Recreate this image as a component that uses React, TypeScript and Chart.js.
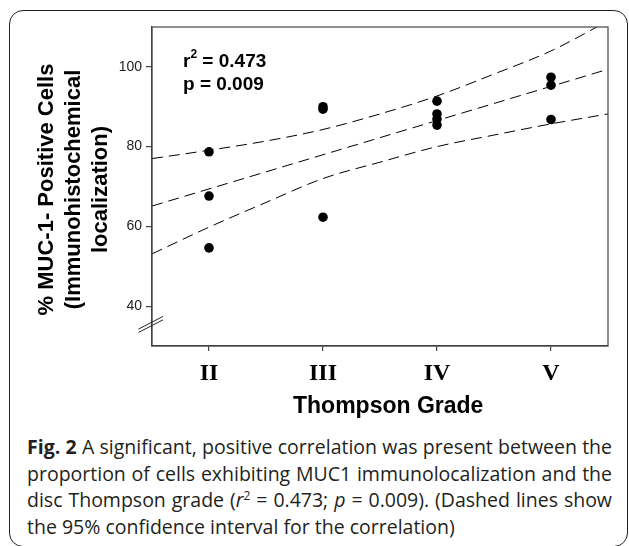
import React, { useEffect, useRef } from "react";
import { Chart, registerables } from "chart.js";

Chart.register(...registerables);

// ---- data ----
const gradeTicks = [2, 3, 4, 5];
const gradeLabels = ["II", "III", "IV", "V"];
const yTicks = [40, 60, 80, 100];

const pointGrade = [2, 2, 2, 3, 3, 3, 4, 4, 4, 4, 5, 5, 5];
const pointMuc1 = [78.7, 67.6, 54.6, 90.0, 89.4, 62.3, 91.4, 88.2, 86.9, 85.4, 97.4, 95.4, 86.8];

const fitX = [1.5, 5.5];
const fitY = [65.1, 99.4];

const ciX = [1.5, 2, 2.5, 3, 3.5, 4, 4.5, 5, 5.5];
const upperY = [77.0, 79.1, 81.4, 84.3, 88.2, 92.7, 98.2, 104.0, 111.5];
const lowerY = [53.1, 59.8, 66.0, 72.0, 76.1, 80.0, 82.9, 85.7, 88.2];

const yBreakValue = 35.4;

const SANS = '"Liberation Sans", Arial, Helvetica, sans-serif';
const SERIF = '"Liberation Serif", "Times New Roman", Times, serif';
const CANVAS_W = 629;
const CANVAS_H = 425;
const AXIS_COLOR = "#444";

const decor = {
  id: "decor",
  afterDraw(chart: any) {
    const { ctx, chartArea: a, scales } = chart;
    ctx.save();
    // frame
    ctx.strokeStyle = AXIS_COLOR;
    ctx.lineWidth = 1.2;
    ctx.strokeRect(a.left, a.top, a.right - a.left, a.bottom - a.top);

    // axis break marks
    const yb = scales.y.getPixelForValue(yBreakValue);
    ctx.strokeStyle = "#222";
    ctx.lineWidth = 1;
    for (const off of [-1.7, 1.7]) {
      ctx.beginPath();
      ctx.moveTo(a.left - 13.5, yb + 6.3 + off);
      ctx.lineTo(a.left + 11, yb - 6.3 + off);
      ctx.stroke();
    }

    // r^2 / p annotation
    ctx.fillStyle = "#000";
    ctx.textAlign = "left";
    ctx.textBaseline = "alphabetic";
    const ax = a.left + 31;
    const b1 = a.top + 40;
    const b2 = a.top + 63;
    ctx.font = `bold 19px ${SANS}`;
    ctx.fillText("r", ax, b1);
    const rw = ctx.measureText("r").width;
    ctx.font = `bold 12px ${SANS}`;
    ctx.fillText("2", ax + rw, b1 - 9);
    const sw = ctx.measureText("2").width;
    ctx.font = `bold 19px ${SANS}`;
    ctx.fillText(" = 0.473", ax + rw + sw, b1);
    ctx.fillText("p = 0.009", ax, b2);

    // x title
    ctx.font = `bold 23px ${SANS}`;
    ctx.fillText("Thompson Grade", a.left + 141, 413);

    // y title (rotated)
    ctx.font = `bold 22px ${SANS}`;
    ctx.textAlign = "center";
    const cy = (a.top + a.bottom) / 2 + 3;
    const lines = ["% MUC-1- Positive Cells", "(Immunohistochemical", "localization)"];
    const bases = [53, 80, 107];
    lines.forEach((t, i) => {
      ctx.save();
      ctx.translate(bases[i], cy);
      ctx.rotate(-Math.PI / 2);
      ctx.fillText(t, 0, 0);
      ctx.restore();
    });
    ctx.restore();
  },
};

export default function App() {
  const ref = useRef<HTMLCanvasElement | null>(null);

  useEffect(() => {
    if (!ref.current) return;
    const dashed = {
      borderColor: "#000",
      borderWidth: 1,
      borderDash: [11, 6],
      pointRadius: 0,
      showLine: true,
      fill: false,
      cubicInterpolationMode: "monotone" as const,
    };
    const chart = new Chart(ref.current, {
      type: "scatter",
      data: {
        datasets: [
          {
            label: "MUC-1",
            data: pointGrade.map((g, i) => ({ x: g, y: pointMuc1[i] })),
            backgroundColor: "#000",
            borderColor: "#000",
            borderWidth: 0,
            pointRadius: 4.8,
            showLine: false,
          },
          { label: "fit", data: fitX.map((x, i) => ({ x, y: fitY[i] })), ...dashed },
          { label: "upper", data: ciX.map((x, i) => ({ x, y: upperY[i] })), ...dashed },
          { label: "lower", data: ciX.map((x, i) => ({ x, y: lowerY[i] })), ...dashed },
        ],
      },
      options: {
        responsive: false,
        animation: false,
        devicePixelRatio: 1,
        layout: { padding: { left: 0, top: 27, right: 21, bottom: 0 } },
        plugins: { legend: { display: false }, tooltip: { enabled: false } },
        scales: {
          x: {
            type: "linear",
            min: 1.5,
            max: 5.5,
            afterFit: (s: any) => {
              s.height = CANVAS_H - 346;
            },
            afterBuildTicks: (s: any) => {
              s.ticks = gradeTicks.map((v) => ({ value: v }));
            },
            ticks: {
              callback: (v: any) => {
                const i = gradeTicks.indexOf(Number(v));
                return i >= 0 ? gradeLabels[i] : "";
              },
              font: { family: SERIF, size: 24, weight: "bold" },
              color: "#000",
              padding: 8,
              maxRotation: 0,
            },
            grid: { display: true, drawOnChartArea: false, drawTicks: true, tickLength: 5, color: AXIS_COLOR, lineWidth: 1.2 },
            border: { display: true, color: AXIS_COLOR, width: 1.2 },
          },
          y: {
            type: "linear",
            min: 30,
            max: 110,
            afterFit: (s: any) => {
              s.width = 152;
            },
            afterBuildTicks: (s: any) => {
              s.ticks = yTicks.map((v) => ({ value: v }));
            },
            ticks: {
              font: { family: SANS, size: 14 },
              color: "#222",
              padding: 4,
            },
            grid: { display: true, drawOnChartArea: false, drawTicks: true, tickLength: 6, color: AXIS_COLOR, lineWidth: 1.2 },
            border: { display: true, color: AXIS_COLOR, width: 1.2 },
          },
        },
      },
      plugins: [decor],
    });
    return () => chart.destroy();
  }, []);

  const lineStyle: React.CSSProperties = {
    textAlign: "justify",
    textAlignLast: "justify" as any,
    height: "26.7px",
  };

  return (
    <div
      style={{
        position: "fixed",
        left: 0,
        top: 0,
        width: CANVAS_W,
        height: 546,
        background: "#fff",
        overflow: "hidden",
      }}
    >
      <div
        style={{
          position: "absolute",
          left: 9,
          top: 10,
          width: 619,
          height: 537,
          boxSizing: "border-box",
          border: "1.5px solid #222",
          borderRadius: 14,
        }}
      />
      <canvas
        ref={ref}
        width={CANVAS_W}
        height={CANVAS_H}
        style={{ position: "absolute", left: 0, top: 0, width: CANVAS_W, height: CANVAS_H }}
      />
      <div
        style={{
          position: "absolute",
          left: 27,
          top: 434,
          width: 585,
          fontFamily: '"Open Sans", "Noto Sans", sans-serif',
          fontSize: "19.5px",
          lineHeight: "26.7px",
          color: "#231f20",
        }}
      >
        <div style={lineStyle}>
          <b>Fig. 2</b> A significant, positive correlation was present between the
        </div>
        <div style={lineStyle}>proportion of cells exhibiting MUC1 immunolocalization and the</div>
        <div style={lineStyle}>
          disc Thompson grade (<i>r</i>
          <sup style={{ fontSize: "12px", lineHeight: 0 }}>2</sup> = 0.473; <i>p</i> = 0.009). (Dashed lines show
        </div>
        <div>the 95% confidence interval for the correlation)</div>
      </div>
    </div>
  );
}
